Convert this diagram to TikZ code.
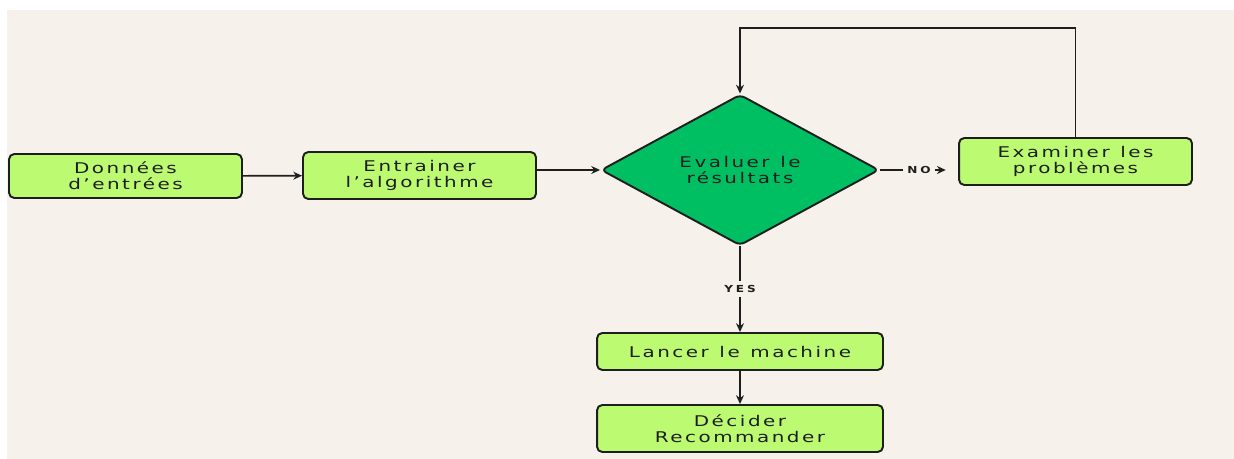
\documentclass[tikz,border=0pt]{standalone}
\usepackage{fontspec}
\newfontfamily\boxfont[LetterSpace=17,FakeStretch=1.35,WordSpace=1.2]{DejaVu Sans}
\newfontfamily\tagfont[LetterSpace=30,FakeStretch=1.25]{DejaVu Sans}
\usetikzlibrary{shapes.geometric,arrows.meta}
\definecolor{paper}{HTML}{F6F2EB}
\definecolor{boxgreen}{HTML}{BCFA72}
\definecolor{diagreen}{HTML}{00BF63}
\definecolor{ink}{HTML}{1E1E1E}

\begin{document}
\begin{tikzpicture}[x=0.02cm,y=-0.02cm]

    \tikzset{
      StepBox/.style = { rectangle, rounded corners=3pt, draw=ink,
                         line width=1.1pt, fill=boxgreen, inner sep=0pt,
                         align=center, text=ink,
                         font = \boxfont\fontsize{8.4}{9.3}\selectfont },
      TestBox/.style = { diamond, rounded corners=3pt, draw=ink,
                         line width=1.1pt, fill=diagreen, inner sep=0pt,
                         align=center, text=ink,
                         minimum width=5.56cm, minimum height=3.02cm,
                         font = \boxfont\fontsize{8.4}{9.3}\selectfont },
      FlowArrow/.style = { draw=ink, line width=0.9pt,
                           -{Stealth[length=5pt,width=4.5pt]} },
      TagLabel/.style = { fill=paper, inner sep=2.5pt, text=ink,
                          font = \tagfont\bfseries\fontsize{5.5}{6}\selectfont } }

    % page and background
    \fill[white] (0,0) rectangle (1234,459);
    \fill[paper] (7,10) rectangle (1234,459);

    % steps
    \node[StepBox, minimum width=4.66cm, minimum height=0.88cm] (donnees) at (125.5,176)
      {Données\\d’entrées};
    \node[StepBox, minimum width=4.66cm, minimum height=0.94cm] (entrainer) at (419.5,175.5)
      {Entrainer\\l’algorithme};
    \node[TestBox] (evaluer) at (740,170) {Evaluer le\\résultats};
    \node[StepBox, minimum width=4.66cm, minimum height=0.94cm] (examiner) at (1075.5,161.5)
      {Examiner les\\problèmes};
    \node[StepBox, minimum width=5.72cm, minimum height=0.74cm] (lancer) at (740,351.5)
      {Lancer le machine};
    \node[StepBox, minimum width=5.72cm, minimum height=0.94cm] (decider) at (740,428.5)
      {Décider\\Recommander};

    \coordinate (loopright) at (1075.5,28);
    \coordinate (loopleft) at (740,28);

    % connectors
    \draw[FlowArrow] (donnees) -- (entrainer);
    \draw[FlowArrow] (entrainer.east |- evaluer.west) -- (evaluer.west);
    \draw[FlowArrow, shorten >=7pt] (evaluer.east) -- node[TagLabel] {NO}
      (examiner.west |- evaluer.east);
    \draw[FlowArrow] (examiner.north) -- (loopright) -- (loopleft) -- (evaluer.north);
    \draw[FlowArrow] (evaluer) -- node[TagLabel] {YES} (lancer);
    \draw[FlowArrow] (lancer) -- (decider);

\end{tikzpicture}
\end{document}
